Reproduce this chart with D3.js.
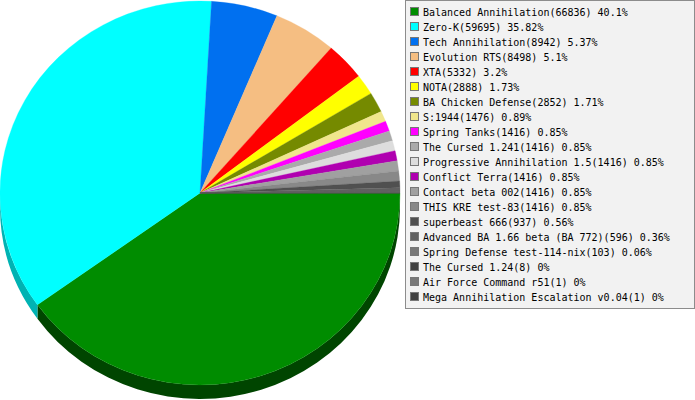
<!DOCTYPE html>
<html>
<head>
<meta charset="utf-8">
<script src="https://cdn.jsdelivr.net/npm/d3@7"></script>
<style>
  html, body { margin: 0; padding: 0; background: #fff; }
  svg { display: block; }
</style>
</head>
<body>
<svg id="chart" width="695" height="400"></svg>
<script>
// Games and their player counts, in legend order
var games = [
    'Balanced Annihilation', 'Zero-K', 'Tech Annihilation', 'Evolution RTS', 'XTA',
    'NOTA', 'BA Chicken Defense', 'S:1944', 'Spring Tanks', 'The Cursed 1.241',
    'Progressive Annihilation 1.5', 'Conflict Terra', 'Contact beta 002', 'THIS KRE test-83',
    'superbeast 666', 'Advanced BA 1.66 beta (BA 772)', 'Spring Defense test-114-nix',
    'The Cursed 1.24', 'Air Force Command r51', 'Mega Annihilation Escalation v0.04'
];
var players = [
    66836, 59695, 8942, 8498, 5332,
    2888, 2852, 1476, 1416, 1416,
    1416, 1416, 1416, 1416,
    937, 596, 103,
    8, 1, 1
];
var colors = [
    '#008c00', '#00ffff', '#0070f0', '#f5be82', '#ff0000',
    '#ffff00', '#758a00', '#f0e68c', '#ff00ff', '#aaaaaa',
    '#dddddd', '#b000b0', '#a0a0a0', '#888888',
    '#505050', '#606060', '#787878',
    '#404040', '#787878', '#404040'
];

var svg = d3.select('#chart');

// Pie geometry: ellipse drawn as a circle scaled horizontally
var cx = 200, cy = 193, rx = 200, ry = 192, depth = 14;

var data = games.map(function(g, i) { return { name: g, value: players[i], color: colors[i] }; });
var total = d3.sum(players);

// Start at 3 o'clock and run clockwise
var pie = d3.pie()
    .sort(null)
    .value(function(d) { return d.value; })
    .startAngle(Math.PI / 2)
    .endAngle(Math.PI / 2 + 2 * Math.PI);
var slices = pie(data);

var arc = d3.arc().innerRadius(0).outerRadius(ry);

var pieGroup = svg.append('g')
    .attr('transform', 'translate(' + cx + ',' + cy + ') scale(' + (rx / ry) + ',1)');

// Side wall colour: shaded version of the slice colour
function sideColor(c) {
    var col = d3.color(c);
    // the green front wall is noticeably darker than the others
    if (c === '#008c00') return col.darker(2).formatHex();
    return col.darker(1).formatHex();
}

// Draw the visible side walls (lower half of the ellipse)
var lo = Math.PI / 2, hi = 3 * Math.PI / 2;
slices.forEach(function(s) {
    var a0 = s.startAngle, a1 = s.endAngle;
    // angles beyond a full turn wrap back into [0, 2pi)
    [[a0, a1], [a0 - 2 * Math.PI, a1 - 2 * Math.PI]].forEach(function(r) {
        var t0 = Math.max(r[0], lo), t1 = Math.min(r[1], hi);
        if (t1 <= t0) return;
        var p = d3.path();
        p.moveTo(ry * Math.sin(t0), -ry * Math.cos(t0));
        p.arc(0, 0, ry, t0 - Math.PI / 2, t1 - Math.PI / 2);
        p.lineTo(ry * Math.sin(t1), -ry * Math.cos(t1) + depth);
        p.arc(0, depth, ry, t1 - Math.PI / 2, t0 - Math.PI / 2, true);
        p.closePath();
        pieGroup.append('path')
            .attr('d', p.toString())
            .attr('fill', sideColor(s.data.color));
    });
});

// Draw the top of the pie
pieGroup.selectAll('.slice')
    .data(slices)
    .enter().append('path')
    .attr('class', 'slice')
    .attr('d', arc)
    .attr('fill', function(d) { return d.data.color; })
    .attr('stroke', function(d) { return d.data.color; })
    .attr('stroke-width', 0.3);

// Legend box
var legend = svg.append('g');
legend.append('rect')
    .attr('x', 405.5).attr('y', 0.5)
    .attr('width', 289).attr('height', 308)
    .attr('fill', '#f2f2f2')
    .attr('stroke', '#8c8c8c');

var rowY = d3.scaleLinear().domain([0, 1]).range([12, 27]);

var rows = legend.selectAll('.row')
    .data(data)
    .enter().append('g')
    .attr('class', 'row')
    .attr('transform', function(d, i) { return 'translate(0,' + rowY(i) + ')'; });

rows.append('rect')
    .attr('x', 410.5).attr('y', -4.5)
    .attr('width', 8).attr('height', 8)
    .attr('fill', function(d) { return d.color; })
    .attr('stroke', '#777');

rows.append('text')
    .attr('x', 423).attr('y', 4)
    .style('font', '10px "DejaVu Sans Mono", monospace')
    .attr('fill', '#000')
    .text(function(d) {
        var pct = +(d.value / total * 100).toFixed(2);
        return d.name + '(' + d.value + ') ' + pct + '%';
    });
</script>
</body>
</html>
